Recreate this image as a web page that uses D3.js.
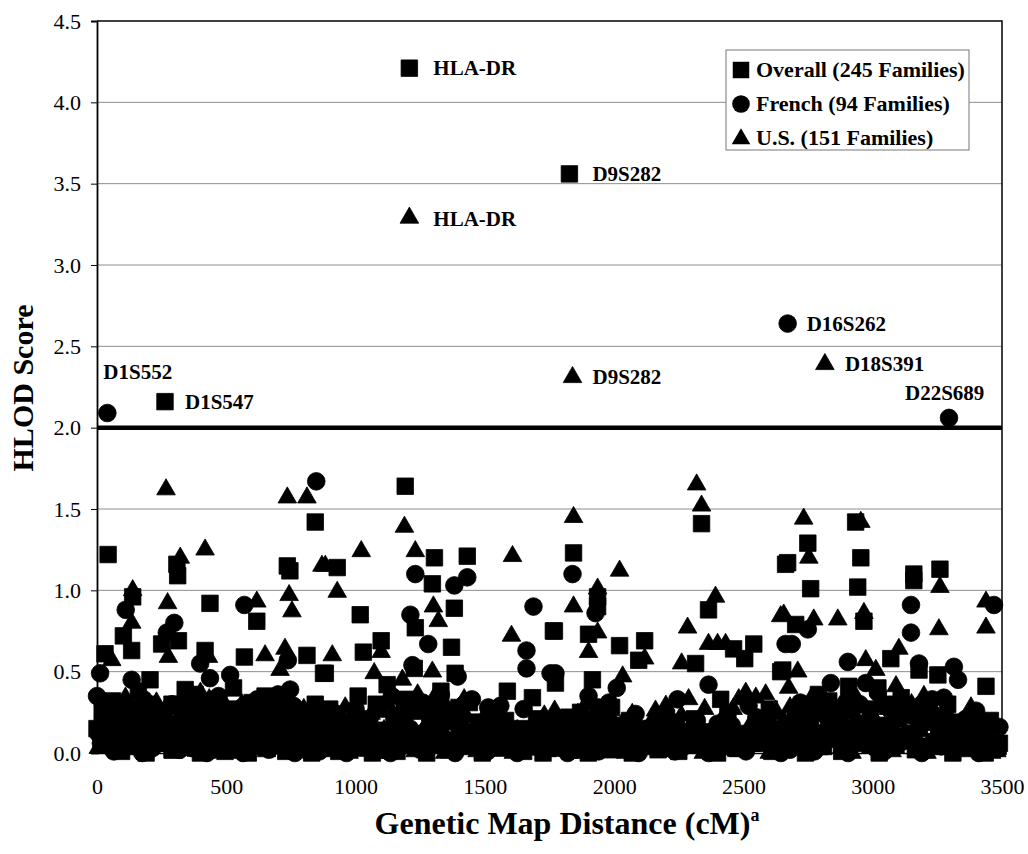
<!DOCTYPE html>
<html>
<head>
<meta charset="utf-8">
<script src="https://cdn.jsdelivr.net/npm/d3@7"></script>
<style>
  body { margin: 0; background: #fff; }
  svg { display: block; }
  text { font-family: "Liberation Serif", "Times New Roman", serif; fill: #000; }
</style>
</head>
<body>
<svg id="chart" width="1028" height="854"></svg>
<script>
// HLOD scores by genetic map position (cM)
var overall = [
  [1208,4.21],[1827,3.56],[263,2.16],
  [1192,1.64],[844,1.42],[2338,1.41],[2934,1.42],[43,1.22],[309,1.16],[312,1.09],[736,1.15],[746,1.12],
  [1305,1.20],[1432,1.21],[929,1.14],[1297,1.04],[1843,1.23],[2663,1.16],[2749,1.29],[2671,1.17],[2954,1.20],
  [2760,1.01],[2942,1.02],[3159,1.10],[3159,1.06],[3260,1.13],
  [138,0.96],[437,0.92],[618,0.81],[102,0.72],[134,0.63],[315,0.69],[250,0.67],[31,0.61],[418,0.63],[570,0.59],
  [812,0.60],[876,0.49],[1018,0.85],[1231,0.77],[1382,0.89],[1371,0.65],[1765,0.75],[1099,0.69],[1030,0.62],
  [883,0.49],[1122,0.42],[1227,0.52],[1010,0.35],[1154,0.23],[1385,0.49],[1587,0.38],[1684,0.34],[1936,0.96],
  [1936,0.90],[1769,0.75],[1901,0.73],[2021,0.66],[2118,0.69],[2095,0.57],[2365,0.88],[2462,0.64],[2505,0.58],
  [2540,0.67],[2315,0.55],[2644,0.50],[1773,0.43],[1916,0.45],[2412,0.33],[2702,0.79],[2966,0.81],[3070,0.58],
  [3438,0.41],[3446,0.18],[2652,0.51],[2733,0.30],[3252,0.48],[2907,0.41],[3020,0.40],[3179,0.51],[205,0.45],
  [341,0.39],[528,0.40],[650,0.35],[844,0.30],
  [60,0.32],[160,0.38],[290,0.30],[380,0.36],[460,0.28],[600,0.31],[680,0.27],[1080,0.30],[1200,0.33],[1290,0.28],
  [1440,0.31],[1990,0.28],[2600,0.27],[2790,0.36],[2880,0.28],[3050,0.30],[3110,0.34],[3210,0.28],
  [20,0.25],[110,0.28],[200,0.30],[250,0.26],[330,0.25],[520,0.27],[740,0.26],[900,0.27],[1240,0.26],[1330,0.38],
  [1400,0.28],[2750,0.26],[2830,0.32],[2990,0.27],[3150,0.26],[3290,0.30],
  [0,0.15],[70,0.22],[120,0.05],[175,0.18],[215,0.08],[260,0.21],[330,0.12],[380,0.03],[420,0.26],[470,0.10],
  [520,0.19],[560,0.04],[610,0.14],[660,0.24],[700,0.07],[760,0.17],[800,0.02],[860,0.12],[910,0.20],[960,0.06],
  [1040,0.15],[1090,0.27],[1130,0.09],[1190,0.18],[1250,0.04],[1330,0.13],[1400,0.22],[1460,0.07],[1520,0.16],
  [1560,0.03],[1620,0.11],[1700,0.21],[1750,0.08],[1810,0.14],[1870,0.25],[1950,0.05],[2040,0.17],[2100,0.10],
  [2170,0.02],[2220,0.19],[2300,0.12],[2360,0.06],[2440,0.23],[2520,0.09],[2580,0.15],[2640,0.03],[2700,0.20],
  [2780,0.08],[2850,0.13],[2920,0.26],[2990,0.05],[3060,0.17],[3130,0.10],[3200,0.02],[3280,0.21],[3340,0.07],
  [3400,0.12],[3470,0.03],
  [45,0.14],[105,0.19],[165,0.12],[225,0.20],[280,0.13],[340,0.22],[395,0.15],[455,0.18],[510,0.11],[570,0.21],
  [625,0.16],[690,0.19],[745,0.12],[795,0.22],[850,0.16],[905,0.13],[950,0.19],[1000,0.11],[1055,0.21],[1120,0.14],
  [1175,0.20],[1235,0.12],[1290,0.17],[1345,0.21],[1415,0.12],[1475,0.19],[1530,0.13],[1580,0.20],[1640,0.15],
  [1710,0.12],[1765,0.19],[1825,0.22],[1885,0.13],[1940,0.17],[2000,0.12],[2060,0.20],[2120,0.15],[2185,0.11],
  [2240,0.16],[2310,0.21],[2375,0.13],[2430,0.18],[2495,0.12],[2560,0.20],[2625,0.14],[2690,0.11],[2760,0.17],
  [2830,0.21],[2900,0.13],[2970,0.18],[3040,0.11],[3100,0.21],[3180,0.15],[3255,0.12],[3320,0.19],[3390,0.15],
  [3455,0.20],
  [35,0.07],[95,0.11],[150,0.04],[205,0.09],[270,0.06],[310,0.10],[365,0.05],[430,0.08],[485,0.04],[550,0.07],
  [600,0.10],[650,0.05],[715,0.08],[770,0.04],[815,0.09],[875,0.06],[925,0.10],[975,0.04],[1030,0.08],[1075,0.05],
  [1145,0.09],[1205,0.06],[1260,0.10],[1320,0.05],[1375,0.08],[1445,0.04],[1505,0.09],[1555,0.06],[1605,0.10],
  [1665,0.05],[1740,0.08],[1795,0.04],[1855,0.10],[1915,0.06],[1970,0.09],[2030,0.04],[2085,0.08],[2150,0.06],
  [2210,0.10],[2280,0.05],[2345,0.08],[2415,0.04],[2455,0.09],[2535,0.06],[2595,0.10],[2655,0.05],[2720,0.08],
  [2795,0.04],[2865,0.09],[2935,0.06],[3005,0.10],[3075,0.05],[3145,0.08],[3220,0.04],[3295,0.09],[3355,0.06],
  [3420,0.10],[3485,0.04],
  [25,0.05],[95,0.01],[145,0.10],[190,0.00],[240,0.06],[290,0.02],[355,0.08],[400,0.00],[445,0.05],[495,0.01],
  [540,0.09],[585,0.00],[635,0.04],[680,0.11],[730,0.01],[780,0.06],[830,0.00],[885,0.05],[935,0.01],[985,0.10],
  [1015,0.03],[1065,0.00],[1110,0.06],[1160,0.01],[1215,0.08],[1275,0.00],[1300,0.05],[1360,0.02],[1430,0.09],
  [1490,0.00],[1540,0.04],[1590,0.08],[1650,0.01],[1680,0.06],[1725,0.00],[1780,0.03],[1840,0.07],[1900,0.00],
  [1925,0.10],[1990,0.02],[2015,0.06],[2070,0.00],[2130,0.04],[2200,0.08],[2250,0.01],[2330,0.05],[2400,0.00],
  [2470,0.03],[2550,0.06],[2610,0.01],[2670,0.09],[2740,0.00],[2810,0.04],[2880,0.01],[2950,0.08],[3025,0.00],
  [3090,0.05],[3165,0.02],[3240,0.07],[3310,0.00],[3370,0.04],[3435,0.00],[3490,0.06]
]

var french = [
  [40,2.09],[2671,2.64],[3295,2.06],
  [848,1.67],[111,0.88],[570,0.91],[299,0.80],[270,0.74],[738,0.57],[399,0.55],[12,0.49],[134,0.45],[515,0.48],
  [437,0.46],[747,0.39],[0,0.35],[1231,1.10],[1382,1.03],[1432,1.08],[1212,0.85],[1281,0.67],[1688,0.90],
  [1661,0.63],[1661,0.52],[1754,0.49],[1220,0.54],[929,0.24],[1189,0.30],[1395,0.47],[1513,0.28],[1839,1.10],
  [1928,0.86],[2663,0.67],[1773,0.49],[2010,0.40],[1939,0.28],[1901,0.35],[2365,0.42],[2245,0.33],[2083,0.24],
  [2749,0.76],[2687,0.67],[3148,0.91],[3148,0.74],[3469,0.91],[2904,0.56],[3314,0.53],[3330,0.45],[3275,0.34],
  [2838,0.43],[2973,0.43],[3179,0.55],[3256,0.20],[3349,0.16],
  [40,0.30],[180,0.33],[330,0.31],[470,0.35],[560,0.28],[620,0.33],[760,0.29],[1000,0.27],[1140,0.35],[1260,0.31],
  [1330,0.36],[1450,0.33],[1560,0.29],[1980,0.31],[2520,0.29],[2720,0.31],[2900,0.32],[3020,0.37],[3120,0.29],
  [3230,0.33],
  [85,0.28],[210,0.26],[380,0.27],[640,0.28],[700,0.36],[860,0.26],[1300,0.27],[1420,0.30],[2860,0.27],[2950,0.30],
  [3070,0.26],[3190,0.30],[3400,0.26],
  [30,0.22],[90,0.10],[150,0.27],[200,0.04],[240,0.16],[290,0.30],[350,0.08],[400,0.19],[450,0.02],[500,0.25],
  [540,0.12],[590,0.06],[640,0.21],[690,0.14],[740,0.03],[790,0.26],[830,0.09],[880,0.17],[940,0.05],[990,0.20],
  [1060,0.11],[1110,0.02],[1160,0.16],[1220,0.09],[1280,0.24],[1350,0.06],[1420,0.14],[1480,0.03],[1540,0.19],
  [1600,0.10],[1650,0.27],[1720,0.05],[1790,0.16],[1850,0.02],[1900,0.12],[1980,0.20],[2060,0.07],[2130,0.15],
  [2200,0.25],[2270,0.04],[2330,0.13],[2400,0.18],[2470,0.06],[2550,0.22],[2610,0.10],[2680,0.02],[2740,0.14],
  [2810,0.24],[2870,0.07],[2940,0.18],[3010,0.03],[3080,0.12],[3150,0.23],[3230,0.06],[3300,0.14],[3380,0.04],
  [3440,0.09],
  [5,0.12],[60,0.17],[130,0.14],[190,0.21],[250,0.12],[310,0.18],[365,0.14],[420,0.21],[480,0.15],[530,0.20],
  [600,0.13],[655,0.17],[710,0.21],[770,0.13],[820,0.18],[875,0.11],[925,0.16],[980,0.13],[1045,0.19],[1100,0.12],
  [1150,0.21],[1210,0.15],[1270,0.12],[1325,0.19],[1395,0.17],[1465,0.13],[1520,0.21],[1590,0.15],[1660,0.12],
  [1735,0.19],[1800,0.13],[1865,0.18],[1915,0.21],[1995,0.14],[2050,0.19],[2110,0.12],[2180,0.18],[2255,0.14],
  [2320,0.20],[2390,0.11],[2455,0.17],[2530,0.13],[2595,0.19],[2660,0.15],[2730,0.20],[2795,0.12],[2855,0.17],
  [2925,0.14],[2995,0.20],[3065,0.16],[3135,0.12],[3210,0.19],[3285,0.15],[3360,0.21],[3425,0.13],[3490,0.16],
  [50,0.05],[105,0.04],[160,0.09],[215,0.03],[280,0.07],[335,0.04],[390,0.09],[440,0.05],[505,0.08],[555,0.04],
  [625,0.09],[675,0.05],[730,0.08],[780,0.04],[845,0.08],[895,0.04],[955,0.09],[1020,0.05],[1070,0.08],[1125,0.04],
  [1180,0.09],[1240,0.05],[1300,0.08],[1370,0.04],[1435,0.09],[1500,0.05],[1555,0.08],[1615,0.04],[1670,0.09],
  [1745,0.05],[1810,0.08],[1880,0.04],[1955,0.07],[2035,0.05],[2115,0.09],[2190,0.04],[2260,0.08],[2340,0.05],
  [2410,0.09],[2490,0.04],[2565,0.08],[2630,0.05],[2695,0.09],[2760,0.04],[2825,0.08],[2890,0.05],[2960,0.09],
  [3030,0.04],[3100,0.08],[3175,0.05],[3250,0.09],[3320,0.04],[3395,0.08],[3460,0.05],
  [15,0.06],[65,0.01],[120,0.08],[175,0.00],[225,0.05],[265,0.11],[320,0.02],[375,0.06],[425,0.00],[475,0.09],
  [520,0.03],[565,0.00],[615,0.07],[665,0.02],[715,0.10],[765,0.00],[810,0.05],[860,0.01],[910,0.08],[965,0.00],
  [1035,0.04],[1085,0.09],[1135,0.00],[1190,0.05],[1250,0.02],[1315,0.08],[1385,0.00],[1450,0.06],[1510,0.01],
  [1570,0.07],[1625,0.00],[1690,0.04],[1760,0.09],[1820,0.00],[1875,0.06],[1940,0.01],[2025,0.08],[2095,0.00],
  [2165,0.05],[2235,0.01],[2300,0.07],[2365,0.00],[2435,0.05],[2510,0.01],[2580,0.08],[2645,0.00],[2710,0.05],
  [2775,0.01],[2840,0.09],[2905,0.00],[2975,0.06],[3045,0.01],[3115,0.07],[3190,0.00],[3265,0.04],[3340,0.09],
  [3410,0.00],[3475,0.05]
]

var us = [
  [1208,3.29],[1839,2.31],[2815,2.39],
  [267,1.62],[736,1.57],[812,1.57],[322,1.20],[418,1.25],[870,1.15],[138,1.00],[273,0.92],[618,0.93],[743,0.97],
  [754,0.87],[134,0.80],[276,0.59],[57,0.57],[431,0.59],[650,0.60],[727,0.64],[708,0.51],[483,0.33],[434,0.33],
  [1189,1.39],[1022,1.24],[1231,1.24],[1607,1.21],[883,1.15],[929,0.99],[1301,0.90],[1320,0.81],[1603,0.72],
  [1099,0.62],[910,0.60],[1072,0.49],[1181,0.45],[1297,0.50],
  [2319,1.65],[2338,1.52],[1843,1.45],[2021,1.12],[1936,1.01],[1843,0.90],[1901,0.62],[1936,0.74],[2118,0.58],
  [2284,0.77],[2392,0.96],[2365,0.67],[2400,0.67],[2431,0.67],[2261,0.55],[2644,0.84],[2033,0.47],[2288,0.33],
  [2482,0.33],[2509,0.37],[2548,0.34],[2586,0.36],[2160,0.26],[2625,0.26],
  [2733,1.44],[2954,1.42],[2753,1.20],[3260,1.02],[2656,0.85],[2772,0.82],[2865,0.82],[2966,0.86],[3256,0.76],
  [3438,0.93],[3438,0.77],[3101,0.64],[2973,0.57],[2710,0.50],[2675,0.40],[3012,0.51],[3090,0.41],[3198,0.35],
  [110,0.34],[230,0.31],[350,0.29],[400,0.37],[560,0.30],[720,0.33],[960,0.28],[1120,0.31],[1240,0.36],[1350,0.29],
  [1420,0.33],[1890,0.30],[2200,0.29],[2350,0.27],[2800,0.30],[2940,0.33],[3150,0.30],[3380,0.28],
  [70,0.26],[170,0.30],[290,0.27],[470,0.28],[650,0.29],[800,0.27],[1180,0.28],[1300,0.33],[2680,0.28],[2760,0.33],
  [3060,0.27],[3230,0.28],
  [40,0.24],[125,0.22],[195,0.26],[250,0.23],[335,0.22],[405,0.25],[455,0.23],[545,0.22],[610,0.24],[670,0.22],
  [735,0.25],[825,0.22],[880,0.24],[985,0.23],[1060,0.24],[1150,0.22],[1215,0.24],[1290,0.23],[1365,0.25],[1430,0.22],
  [1550,0.24],[1730,0.23],[1860,0.24],[1945,0.22],[2070,0.24],[2260,0.23],[2440,0.22],[2620,0.24],[2700,0.22],
  [2860,0.24],[2980,0.22],[3090,0.24],[3190,0.22],[3280,0.25],[3400,0.23],
  [5,0.03],[50,0.12],[100,0.20],[160,0.07],[210,0.25],[270,0.14],[320,0.02],[370,0.18],[430,0.09],[490,0.24],
  [530,0.05],[580,0.15],[630,0.27],[680,0.10],[720,0.03],[780,0.19],[850,0.08],[900,0.14],[950,0.02],[1010,0.22],
  [1070,0.11],[1140,0.05],[1200,0.26],[1260,0.13],[1310,0.03],[1380,0.18],[1440,0.08],[1500,0.23],[1580,0.12],
  [1640,0.04],[1710,0.17],[1770,0.26],[1830,0.09],[1890,0.19],[1960,0.02],[2010,0.13],[2080,0.06],[2150,0.21],
  [2240,0.10],[2310,0.03],[2380,0.15],[2460,0.27],[2500,0.07],[2570,0.18],[2630,0.05],[2720,0.12],[2800,0.23],
  [2880,0.03],[2960,0.15],[3040,0.08],[3110,0.26],[3170,0.04],[3250,0.13],[3320,0.02],[3370,0.19],[3430,0.09],
  [3480,0.01],
  [20,0.18],[75,0.15],[145,0.18],[200,0.13],[260,0.17],[310,0.20],[360,0.12],[415,0.16],[470,0.20],[520,0.14],
  [590,0.19],[645,0.12],[705,0.16],[760,0.21],[835,0.13],[890,0.19],[940,0.12],[995,0.16],[1050,0.20],[1110,0.14],
  [1165,0.19],[1220,0.12],[1275,0.18],[1325,0.14],[1390,0.20],[1455,0.13],[1515,0.17],[1565,0.21],[1625,0.14],
  [1690,0.19],[1755,0.12],[1815,0.17],[1875,0.13],[1930,0.20],[1975,0.15],[2030,0.18],[2100,0.13],[2165,0.17],
  [2225,0.20],[2290,0.15],[2360,0.11],[2410,0.19],[2470,0.14],[2525,0.17],[2590,0.12],[2655,0.20],[2740,0.16],
  [2815,0.13],[2890,0.19],[2945,0.12],[3020,0.17],[3085,0.21],[3160,0.14],[3230,0.18],[3305,0.12],[3360,0.16],
  [3445,0.18],
  [30,0.08],[80,0.00],[130,0.05],[185,0.01],[235,0.09],[295,0.00],[345,0.06],[395,0.01],[460,0.04],[510,0.11],
  [555,0.00],[605,0.06],[655,0.01],[700,0.08],[750,0.00],[815,0.05],[870,0.01],[925,0.09],[975,0.00],[1040,0.06],
  [1100,0.00],[1170,0.08],[1230,0.01],[1285,0.06],[1345,0.00],[1410,0.05],[1470,0.01],[1530,0.09],[1610,0.00],
  [1675,0.05],[1740,0.01],[1800,0.07],[1860,0.00],[1920,0.05],[1985,0.09],[2045,0.00],[2110,0.04],[2190,0.01],
  [2270,0.07],[2345,0.00],[2420,0.05],[2480,0.01],[2540,0.10],[2600,0.00],[2680,0.04],[2760,0.01],[2840,0.08],
  [2920,0.00],[3000,0.05],[3075,0.01],[3140,0.09],[3210,0.00],[3290,0.05],[3350,0.01],[3410,0.06],[3460,0.00]
]

var seriesNames = ["Overall (245 Families)", "French (94 Families)", "U.S. (151 Families)"]
var xTicks = [0, 500, 1000, 1500, 2000, 2500, 3000, 3500]
var yTicks = [0, 0.5, 1, 1.5, 2, 2.5, 3, 3.5, 4, 4.5]
var threshold = 2.0

// labelled markers: name, cM, HLOD
var markerNames = ["HLA-DR", "D9S282", "HLA-DR", "D16S262", "D18S391", "D1S552", "D1S547", "D9S282", "D22S689"]
var markerPos = [[1208,4.21],[1827,3.56],[1208,3.29],[2671,2.64],[2815,2.39],[40,2.09],[263,2.16],[1839,2.31],[3295,2.06]]

var margin = {left: 97, top: 21},
    width = 905,
    height = 732

var svg = d3.select("#chart")
var g = svg.append("g").attr("transform", `translate(${margin.left},${margin.top})`)

var x = d3.scaleLinear().domain([0, 3500]).range([0, width])
var y = d3.scaleLinear().domain([0, 4.5]).range([height, 0])

// gridlines
g.selectAll("line.grid")
  .data(yTicks.filter(d => d > 0 && d < 4.5 && d != threshold))
  .enter().append("line")
    .attr("class", "grid")
    .attr("x1", 0).attr("x2", width)
    .attr("y1", d => y(d)).attr("y2", d => y(d))
    .attr("stroke", "#8c8c8c")
    .attr("stroke-width", 1)

// frame: top + right
g.append("path")
  .attr("d", `M0,0H${width}V${height}`)
  .attr("fill", "none")
  .attr("stroke", "#000")
  .attr("stroke-width", 1.5)

// y axis
var yAxis = g.append("g")
  .call(d3.axisLeft(y).tickValues(yTicks).tickSize(6).tickPadding(10).tickFormat(d3.format(".1f")))
yAxis.select(".domain").attr("stroke-width", 1.8)
yAxis.selectAll("text")
  .style("font-size", "22px")
  .style("font-family", "Liberation Serif, serif")

// x axis labels (line hidden under the markers)
var xAxis = g.append("g")
  .attr("transform", `translate(0,${height})`)
  .call(d3.axisBottom(x).tickValues(xTicks).tickSize(0).tickFormat(d3.format("d")))
xAxis.select(".domain").attr("stroke-width", 1.5)
xAxis.selectAll("text")
  .attr("dy", null)
  .attr("y", 41)
  .style("font-size", "22px")
  .style("font-family", "Liberation Serif, serif")

// threshold line
g.append("line")
  .attr("x1", 0).attr("x2", width)
  .attr("y1", y(threshold)).attr("y2", y(threshold))
  .attr("stroke", "#000")
  .attr("stroke-width", 4.5)

var symbols = [
  d3.symbol().type(d3.symbolSquare).size(272),
  d3.symbol().type(d3.symbolCircle).size(245),
  d3.symbol().type(d3.symbolTriangle).size(150)
]

;[overall, french, us].forEach(function (data, i) {
  g.append("g").selectAll("path")
    .data(data)
    .enter().append("path")
      .attr("d", symbols[i])
      .attr("transform", d => `translate(${x(d[0])},${y(d[1])})`)
      .attr("fill", "#000")
      .attr("stroke", "#000")
      .attr("stroke-width", 0.8)
})

// marker labels
var labelOffsets = [[24,7],[23,7],[24,8],[19,7],[20,7],[-4,-34],[20,7],[20,7],[-44,-18]]
g.selectAll("text.marker")
  .data(markerNames)
  .enter().append("text")
    .attr("class", "marker")
    .attr("x", (d, i) => x(markerPos[i][0]) + labelOffsets[i][0])
    .attr("y", (d, i) => y(markerPos[i][1]) + labelOffsets[i][1])
    .style("font-size", "21px")
    .style("font-weight", "bold")
    .text(d => d)

// legend
var legend = svg.append("g").attr("transform", "translate(726,50)")
legend.append("rect")
  .attr("width", 243).attr("height", 100)
  .attr("fill", "#fff")
  .attr("stroke", "#777")
  .attr("stroke-width", 1)

seriesNames.forEach(function (name, i) {
  var row = legend.append("g").attr("transform", `translate(0,${20 + i * 34})`)
  row.append("path")
    .attr("d", symbols[i])
    .attr("transform", `translate(15,${i == 2 ? 1 : 0})`)
    .attr("fill", "#000")
  row.append("text")
    .attr("x", 30).attr("y", 7)
    .style("font-size", "22px")
    .style("font-weight", "bold")
    .text(name)
})

// axis titles
svg.append("text")
  .attr("transform", "translate(33,388) rotate(-90)")
  .attr("text-anchor", "middle")
  .style("font-size", "30px")
  .style("font-weight", "bold")
  .text("HLOD Score")

var xt = svg.append("text")
  .attr("x", 567).attr("y", 834)
  .attr("text-anchor", "middle")
  .style("font-size", "32px")
  .style("font-weight", "bold")
xt.append("tspan").text("Genetic Map Distance (cM)")
xt.append("tspan")
  .attr("dy", -13)
  .style("font-size", "18px")
  .text("a")
</script>
</body>
</html>
